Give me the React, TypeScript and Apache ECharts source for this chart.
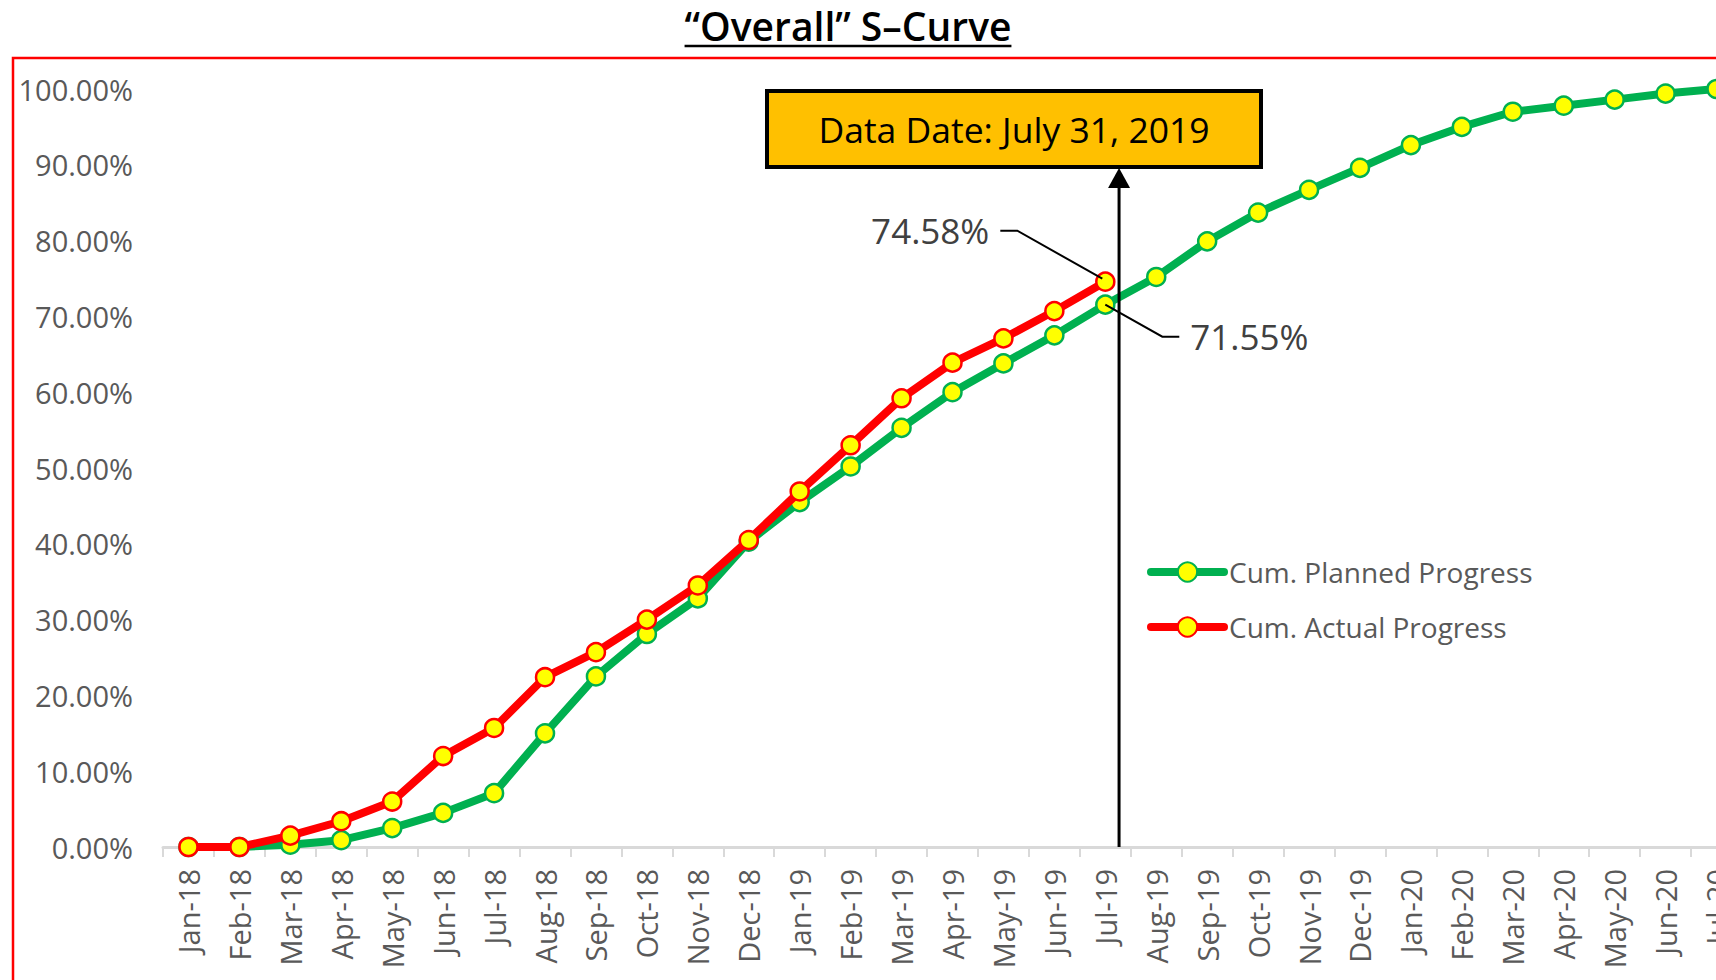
import React, { useEffect, useRef } from "react";
import * as echarts from "echarts";

const months = [
  "Jan-18", "Feb-18", "Mar-18", "Apr-18", "May-18", "Jun-18", "Jul-18", "Aug-18", "Sep-18", "Oct-18", "Nov-18", "Dec-18",
  "Jan-19", "Feb-19", "Mar-19", "Apr-19", "May-19", "Jun-19", "Jul-19", "Aug-19", "Sep-19", "Oct-19", "Nov-19", "Dec-19",
  "Jan-20", "Feb-20", "Mar-20", "Apr-20", "May-20", "Jun-20", "Jul-20",
];

const plannedProgress = [
  0, 0, 0.3, 0.9, 2.5, 4.5, 7.1, 15.0, 22.5, 28.1, 32.8, 40.3,
  45.5, 50.2, 55.3, 60.0, 63.8, 67.5, 71.55, 75.2, 79.9, 83.7, 86.7, 89.6,
  92.6, 95.0, 97.0, 97.8, 98.6, 99.4, 100.0,
];

const actualProgress = [
  0, 0, 1.5, 3.4, 6.0, 12.0, 15.7, 22.4, 25.7, 30.0, 34.5, 40.5,
  46.9, 53.0, 59.2, 63.9, 67.1, 70.7, 74.58,
];

const seriesNames = ["Cum. Planned Progress", "Cum. Actual Progress"];
const titleText = "\u201COverall\u201D S\u2013Curve";
const dataDateText = "Data Date: July 31, 2019";
const dataDateIndex = 18; // Jul-19
const dataDateFraction = 0.27; // July 31 sits a little past the Jul-19 point

const FONT = '"Open Sans", "Noto Sans", sans-serif';
const GREEN = "#00B050";
const RED = "#FF0000";
const YELLOW = "#FFFF00";
const GREY_TEXT = "#595959";

export default function App() {
  const ref = useRef<HTMLDivElement>(null);

  useEffect(() => {
    const chart = echarts.init(ref.current!, null, { renderer: "svg" });

    const option: any = {
      animation: false,
      backgroundColor: "#ffffff",
      textStyle: { fontFamily: FONT },
      grid: { left: 163, top: 89, width: 1579, height: 758, containLabel: false },
      xAxis: {
        type: "category",
        data: months,
        boundaryGap: true,
        axisLine: { show: true, lineStyle: { color: "#d9d9d9", width: 3 } },
        axisTick: { show: true, length: 10, lineStyle: { color: "#d9d9d9", width: 2 } },
        axisLabel: {
          rotate: 90,
          interval: 0,
          margin: 22,
          color: GREY_TEXT,
          fontSize: 29,
          fontFamily: FONT,
        },
        splitLine: { show: false },
      },
      yAxis: {
        type: "value",
        min: 0,
        max: 100,
        interval: 10,
        axisLine: { show: false },
        axisTick: { show: false },
        splitLine: { show: false },
        axisLabel: {
          formatter: (v: number) => v.toFixed(2) + "%",
          color: GREY_TEXT,
          fontSize: 29,
          fontFamily: FONT,
          margin: 30,
        },
      },
      legend: {
        orient: "vertical",
        left: 1147,
        top: 557,
        padding: 0,
        itemWidth: 73,
        itemHeight: 24,
        itemGap: 25,
        data: seriesNames,
        lineStyle: { width: 8, cap: "round" },
        textStyle: { color: GREY_TEXT, fontSize: 28, fontFamily: FONT, lineHeight: 30 },
      },
      series: [
        {
          name: seriesNames[0],
          type: "line",
          data: plannedProgress,
          symbol: "circle",
          symbolSize: 18,
          showAllSymbol: true,
          lineStyle: { color: GREEN, width: 8 },
          itemStyle: { color: YELLOW, borderColor: GREEN, borderWidth: 2.5 },
          z: 2,
        },
        {
          name: seriesNames[1],
          type: "line",
          data: actualProgress,
          symbol: "circle",
          symbolSize: 18,
          showAllSymbol: true,
          lineStyle: { color: RED, width: 8 },
          itemStyle: { color: YELLOW, borderColor: RED, borderWidth: 2.5 },
          z: 3,
        },
      ],
    };

    chart.setOption(option);

    // measure title width for underline
    const cv = document.createElement("canvas").getContext("2d")!;
    const titleFontSize = 39;
    cv.font = `600 ${titleFontSize}px "Open Sans"`;
    const titleW = cv.measureText(titleText).width;
    const titleX = 848;

    const toPx = (cat: string, v: number) =>
      chart.convertToPixel({ gridIndex: 0 }, [cat, v]) as number[];

    const p18 = toPx(months[dataDateIndex], 0);
    const p19 = toPx(months[dataDateIndex + 1], 0);
    const arrowX = p18[0] + dataDateFraction * (p19[0] - p18[0]);
    const axisY = p18[1];

    const boxX = 767, boxY = 91, boxW = 494, boxH = 76;
    const boxBottom = boxY + boxH + 2;

    const pA = toPx(months[dataDateIndex], actualProgress[dataDateIndex]);
    const pP = toPx(months[dataDateIndex], plannedProgress[dataDateIndex]);

    const labelStyle = { fill: "#404040", fontSize: 35, fontFamily: FONT };

    chart.setOption({
      graphic: [
        {
          type: "rect",
          z: 1,
          shape: { x: 13, y: 58, width: 1800, height: 1000 },
          style: { fill: "none", stroke: RED, lineWidth: 2.5 },
          silent: true,
        },
        {
          type: "text",
          z: 20,
          x: titleX,
          y: 25,
          style: {
            text: titleText,
            fill: "#000000",
            fontSize: titleFontSize,
            fontWeight: 600,
            fontFamily: FONT,
            align: "center",
            verticalAlign: "middle",
          },
        },
        {
          type: "line",
          z: 20,
          shape: { x1: titleX - titleW / 2, y1: 46, x2: titleX + titleW / 2, y2: 46 },
          style: { stroke: "#000000", lineWidth: 2.5 },
        },
        {
          type: "rect",
          z: 20,
          shape: { x: boxX, y: boxY, width: boxW, height: boxH },
          style: { fill: "#FFC000", stroke: "#000000", lineWidth: 4 },
        },
        {
          type: "text",
          z: 21,
          x: boxX + boxW / 2,
          y: boxY + boxH / 2,
          style: {
            text: dataDateText,
            fill: "#000000",
            fontSize: 35.5,
            fontFamily: FONT,
            align: "center",
            verticalAlign: "middle",
          },
        },
        {
          type: "line",
          z: 20,
          shape: { x1: arrowX, y1: axisY, x2: arrowX, y2: boxBottom + 16 },
          style: { stroke: "#000000", lineWidth: 3 },
        },
        {
          type: "polygon",
          z: 20,
          shape: {
            points: [
              [arrowX, boxBottom - 1],
              [arrowX - 11, boxBottom + 19],
              [arrowX + 11, boxBottom + 19],
            ],
          },
          style: { fill: "#000000" },
        },
        {
          type: "polyline",
          z: 20,
          shape: {
            points: [
              [pA[0] - 105, pA[1] - 51],
              [pA[0] - 88, pA[1] - 51],
              [pA[0] - 3, pA[1] - 3],
            ],
          },
          style: { stroke: "#000000", lineWidth: 2, fill: "none" },
        },
        {
          type: "text",
          z: 20,
          x: pA[0] - 116,
          y: pA[1] - 51,
          style: {
            ...labelStyle,
            text: actualProgress[dataDateIndex].toFixed(2) + "%",
            align: "right",
            verticalAlign: "middle",
          },
        },
        {
          type: "polyline",
          z: 20,
          shape: {
            points: [
              [pP[0], pP[1]],
              [pP[0] + 57, pP[1] + 32],
              [pP[0] + 74, pP[1] + 32],
            ],
          },
          style: { stroke: "#000000", lineWidth: 2, fill: "none" },
        },
        {
          type: "text",
          z: 20,
          x: pP[0] + 85,
          y: pP[1] + 32,
          style: {
            ...labelStyle,
            text: plannedProgress[dataDateIndex].toFixed(2) + "%",
            align: "left",
            verticalAlign: "middle",
          },
        },
      ],
    });

    return () => {
      chart.dispose();
    };
  }, []);

  return (
    <div
      style={{
        position: "absolute",
        left: 0,
        top: 0,
        width: 1716,
        height: 980,
        overflow: "hidden",
        background: "#fff",
      }}
    >
      <div ref={ref} style={{ width: 1780, height: 980 }} />
    </div>
  );
}
